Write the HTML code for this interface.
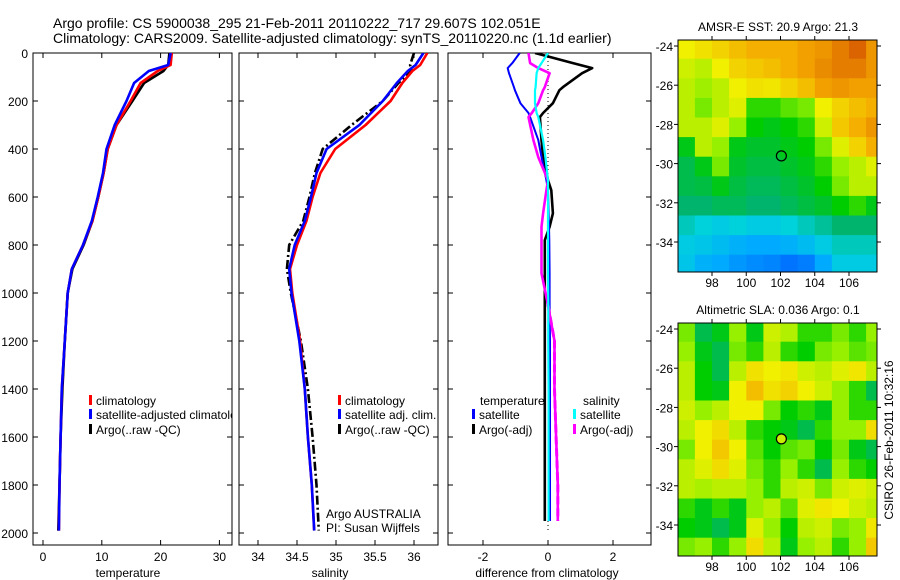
<!DOCTYPE html>
<html><head><meta charset="utf-8"><style>
html,body{margin:0;padding:0;background:#fff;}
svg{display:block;font-family:"Liberation Sans",sans-serif;}
text{fill:#000;}
</style></head><body>
<svg id="fig" width="900" height="580" viewBox="0 0 900 580" xmlns="http://www.w3.org/2000/svg">
<text x="53" y="28" font-size="14">Argo profile: CS 5900038_295 21-Feb-2011 20110222_717 29.607S 102.051E</text>
<text x="53" y="43" font-size="14">Climatology: CARS2009. Satellite-adjusted climatology: synTS_20110220.nc (1.1d earlier)</text>
<g id="g"></g>
</svg>
<script>
// ---- profile data (depth in m) ----
const depths = [0,50,75,125,200,300,400,500,600,700,800,900,1000,1200,1400,1600,1800,1990];
const tempClim = [21.9,21.7,19.5,16.6,14.9,12.5,11.0,10.3,9.4,8.4,6.8,4.9,4.2,3.7,3.2,3.0,2.8,2.7];
const tempSat  = [21.7,21.3,18.0,15.5,14.2,12.2,10.8,10.2,9.3,8.3,6.8,4.9,4.2,3.7,3.2,3.0,2.8,2.7];
const tempArgo = [21.5,21.3,20.5,17.2,15.2,12.5,11.0,10.3,9.4,8.4,6.9,5.0,4.2,3.7,3.3,3.0,2.8,2.6];
const salClim = [36.17,36.08,35.98,35.85,35.7,35.38,34.99,34.8,34.7,34.62,34.5,34.41,34.44,34.54,34.6,34.64,34.69,34.72];
const salSat  = [36.12,36.02,35.92,35.78,35.6,35.3,34.88,34.75,34.68,34.6,34.47,34.4,34.43,34.53,34.6,34.64,34.69,34.72];
const salArgo = [36.0,35.95,35.97,35.8,35.6,35.2,34.83,34.73,34.66,34.58,34.4,34.37,34.42,34.55,34.64,34.7,34.75,34.78];
const diffDepths = [0,42,63,84,142,155,209,250,267,363,434,530,572,668,724,780,918,1050,1200,1400,1600,1800,1950];
const dTempSat  = [-0.87,-1.1,-1.24,-1.2,-1.05,-1.02,-0.85,-0.6,-0.55,-0.3,-0.2,-0.05,0,0.02,0.03,0.04,0.05,0.05,0.06,0.06,0.06,0.06,0.06];
const dTempArgo = [-0.4,0.77,1.36,1.05,0.46,0.35,0.15,-0.15,-0.25,-0.2,-0.15,0.0,0.1,0.15,0.05,-0.1,-0.1,-0.1,-0.1,-0.1,-0.1,-0.1,-0.1];
const dSalSat   = [0,-0.2,-0.3,-0.35,-0.38,-0.4,-0.4,-0.35,-0.3,-0.15,-0.08,0,0,0,0,0,0,0.01,0.01,0.02,0.02,0.02,0.02];
const dSalArgo  = [-0.6,-0.55,-0.3,0.05,-0.1,-0.15,-0.3,-0.5,-0.6,-0.45,-0.3,0,-0.05,-0.15,-0.2,-0.2,-0.2,0.0,0.2,0.2,0.25,0.3,0.3];
// ---- map data (values 0..1 on colour scale), rows from north to south ----
const mapLons = [96,97,98,99,100,101,102,103,104,105,106,107];
const mapLats = [-23.65,-24.65,-25.65,-26.65,-27.65,-28.65,-29.65,-30.65,-31.65,-32.65,-33.65,-34.65];
const sstRows = [
[0.72,0.75,0.78,0.82,0.85,0.85,0.85,0.88,0.9,0.95,1,0.9],
[0.68,0.66,0.72,0.78,0.8,0.82,0.85,0.88,0.92,0.95,0.95,0.9],
[0.66,0.63,0.66,0.72,0.75,0.74,0.78,0.82,0.88,0.9,0.88,0.88],
[0.66,0.6,0.66,0.7,0.55,0.55,0.58,0.6,0.72,0.78,0.82,0.85],
[0.66,0.66,0.7,0.62,0.52,0.5,0.52,0.55,0.68,0.8,0.85,0.9],
[0.5,0.66,0.62,0.5,0.48,0.48,0.5,0.52,0.6,0.7,0.78,0.85],
[0.45,0.5,0.6,0.48,0.46,0.46,0.48,0.5,0.55,0.62,0.66,0.7],
[0.45,0.46,0.5,0.46,0.44,0.44,0.46,0.48,0.52,0.6,0.66,0.66],
[0.42,0.42,0.44,0.44,0.42,0.42,0.44,0.46,0.48,0.52,0.55,0.5],
[0.35,0.32,0.3,0.32,0.3,0.3,0.32,0.35,0.38,0.42,0.42,0.42],
[0.3,0.28,0.25,0.22,0.2,0.2,0.22,0.25,0.3,0.35,0.35,0.35],
[0.28,0.22,0.2,0.15,0.12,0.1,0.05,0.08,0.2,0.3,0.3,0.3]];
const slaRows = [
[0.6,0.45,0.5,0.62,0.5,0.68,0.65,0.55,0.55,0.6,0.55,0.62],
[0.62,0.5,0.45,0.6,0.55,0.66,0.55,0.52,0.6,0.62,0.58,0.6],
[0.66,0.52,0.45,0.66,0.75,0.72,0.74,0.68,0.66,0.7,0.74,0.66],
[0.66,0.52,0.5,0.72,0.82,0.75,0.78,0.72,0.68,0.62,0.55,0.45],
[0.68,0.62,0.66,0.72,0.72,0.6,0.52,0.55,0.5,0.62,0.55,0.55],
[0.66,0.72,0.76,0.66,0.55,0.52,0.5,0.45,0.55,0.62,0.62,0.76],
[0.6,0.72,0.8,0.72,0.58,0.52,0.58,0.6,0.52,0.6,0.5,0.45],
[0.66,0.7,0.76,0.7,0.6,0.55,0.62,0.55,0.45,0.62,0.55,0.52],
[0.66,0.64,0.66,0.66,0.62,0.55,0.66,0.68,0.6,0.68,0.7,0.68],
[0.55,0.5,0.55,0.5,0.62,0.66,0.58,0.7,0.74,0.72,0.68,0.66],
[0.52,0.5,0.45,0.5,0.7,0.62,0.52,0.66,0.68,0.6,0.62,0.74],
[0.6,0.62,0.55,0.62,0.76,0.66,0.5,0.62,0.66,0.55,0.62,0.8]];
const depthTicks = [0,200,400,600,800,1000,1200,1400,1600,1800,2000];
const tempTicks = [0,10,20,30];
const salTicks = [34,34.5,35,35.5,36];
const diffTicks = [-2,0,2];
const lonTicks = [98,100,102,104,106];
const latTicks = [-24,-26,-28,-30,-32,-34];
const floatLon = 102.051, floatLat = -29.607;

const NS='http://www.w3.org/2000/svg';
const G=document.getElementById('g');
function mk(tag,attrs,parent){const e=document.createElementNS(NS,tag);for(const k in attrs)e.setAttribute(k,attrs[k]);(parent||G).appendChild(e);return e;}
function lin(d0,d1,r0,r1){return v=>r0+(v-d0)*(r1-r0)/(d1-d0);}
const yD = lin(0,800,53,245);
const PT=53,PB=545;
const panels=[
 {name:'temperature',x0:33,x1:232,sx:lin(0,10,43,101.8),ticks:tempTicks,label:'temperature',lx:128},
 {name:'salinity',x0:239,x1:438,sx:lin(34,35,258,336),ticks:salTicks,label:'salinity',lx:330},
 {name:'difference',x0:448,x1:651,sx:lin(0,2,548,613),ticks:diffTicks,label:'difference from climatology',lx:547}];
panels.forEach((p,i)=>{
  const g=mk('g',{});
  
  
  const r=mk('rect',{x:p.x0,y:PT,width:p.x1-p.x0,height:PB-PT,fill:'none',stroke:'#000','stroke-width':1},g);
  
  
  depthTicks.forEach(d=>{const y=yD(d);
    mk('line',{x1:p.x0,x2:p.x0+5,y1:y,y2:y,stroke:'#000'},g);
    mk('line',{x1:p.x1,x2:p.x1-5,y1:y,y2:y,stroke:'#000'},g);
    if(i==0){const t=mk('text',{x:28,y:y+5,'font-size':12,'text-anchor':'end'},g);t.textContent=d;
      
      }
  });
  p.ticks.forEach(v=>{const x=p.sx(v);
    mk('line',{x1:x,x2:x,y1:PT,y2:PT+5,stroke:'#000'},g);
    mk('line',{x1:x,x2:x,y1:PB,y2:PB-5,stroke:'#000'},g);
    const t=mk('text',{x:x,y:561,'font-size':12,'text-anchor':'middle'},g);t.textContent=v;
    
    
  });
  const xl=mk('text',{x:p.lx,y:577,'font-size':12,'text-anchor':'middle'},g);xl.textContent=p.label;
  
  
  p.g=g;
});
function clip(id,p){const c=mk('clipPath',{id:id});mk('rect',{x:p.x0,y:PT,width:p.x1-p.x0,height:PB-PT},c);}
panels.forEach((p,i)=>clip('c'+i,p));
function line(pi,ds,vals,color,name,dash,w){
  const p=panels[pi];
  const pts=ds.map((d,k)=>p.sx(vals[k]).toFixed(1)+','+yD(d).toFixed(1)).join(' ');
  const e=mk('polyline',{points:pts,fill:'none',stroke:color,'stroke-width':w||2.6,'clip-path':'url(#c'+pi+')','stroke-linejoin':'round'},p.g);
  if(dash)e.setAttribute('stroke-dasharray',dash);
  
  
  return e;
}
line(0,depths,tempArgo,'#000','temp-argo-line');
line(0,depths,tempClim,'#f00','temp-climatology-line');
line(0,depths,tempSat,'#00f','temp-satellite-line');
line(1,depths,salArgo,'#000','sal-argo-line','9,3,2,3');
line(1,depths,salClim,'#f00','sal-climatology-line');
line(1,depths,salSat,'#00f','sal-satellite-line');
// zero reference
const z=mk('line',{x1:panels[2].sx(0),x2:panels[2].sx(0),y1:PT,y2:yD(1990),stroke:'#000','stroke-dasharray':'1,3'},panels[2].g);


line(2,diffDepths,dTempArgo,'#000','diff-temp-argo-line');
line(2,diffDepths,dTempSat,'#00f','diff-temp-satellite-line',null,2);
line(2,diffDepths,dSalArgo,'#f0f','diff-sal-argo-line');
line(2,diffDepths.slice(17),dSalArgo.slice(17),'#f0f','diff-sal-argo-dashed','8,4',3);
line(2,diffDepths,dSalSat,'#0ff','diff-sal-satellite-line',null,2.2);

// legends
function legend(x,y,color,label,name,clipW){
  const g=mk('g',{});
  
  
  mk('rect',{x:x,y:y-10,width:3,height:10,fill:color},g);
  const t=mk('text',{x:x+7,y:y,'font-size':12},g);t.textContent=label;
  if(clipW)t.setAttribute('clip-path','url(#c0)');
}
legend(89,405,'#f00','climatology','legend-climatology');
legend(89,419,'#00f','satellite-adjusted climatology','legend-satellite-adjusted',true);
legend(89,434,'#000','Argo(..raw -QC)','legend-argo-raw');
legend(338,405,'#f00','climatology','legend-sal-climatology');
legend(338,419,'#00f','satellite adj. clim.','legend-sal-satellite');
legend(338,434,'#000','Argo(..raw -QC)','legend-sal-argo');
legend(472,419,'#00f','satellite','legend-diff-temp-satellite');
legend(472,434,'#000','Argo(-adj)','legend-diff-temp-argo');
legend(573,419,'#0ff','satellite','legend-diff-sal-satellite');
legend(573,434,'#f0f','Argo(-adj)','legend-diff-sal-argo');
[['temperature',480,405,'legend-header-temperature'],['salinity',583,405,'legend-header-salinity'],
 ['Argo AUSTRALIA',326,518,'credit-argo-australia'],['PI: Susan Wijffels',326,532,'credit-pi']].forEach(a=>{
  const t=mk('text',{x:a[1],y:a[2],'font-size':12});t.textContent=a[0];
  
  
});

// colour map
const stops=[[0,[0,96,255]],[0.2,[0,170,255]],[0.32,[0,210,220]],[0.42,[0,180,110]],[0.52,[0,205,0]],[0.62,[150,240,0]],[0.72,[240,240,0]],[0.86,[245,170,0]],[1,[220,100,0]]];
function cmap(v){for(let i=1;i<stops.length;i++){if(v<=stops[i][0]){const a=stops[i-1],b=stops[i],t=(v-a[0])/(b[0]-a[0]);
  return 'rgb('+a[1].map((c,k)=>Math.round(c+(b[1][k]-c)*t)).join(',')+')';}}return 'rgb(220,100,0)';}
function map(rows,top,bot,title,name,dotFill){
  const X0=678,X1=877;
  const sx=lin(98,106,712,849), sy=lin(-24,-34,top+6,top+6+196);
  const g=mk('g',{});
  
  
  const cid='cm'+top;const c=mk('clipPath',{id:cid});mk('rect',{x:X0,y:top,width:X1-X0,height:bot-top},c);
  const cg=mk('g',{'clip-path':'url(#'+cid+')'},g);
  rows.forEach((row,r)=>row.forEach((v,k)=>{
    const x=sx(mapLons[k]),y=sy(mapLats[r]);
    const e=mk('rect',{x:x.toFixed(1),y:y.toFixed(1),width:(sx(mapLons[k]+1)-x+0.5).toFixed(1),height:(sy(mapLats[r]-1)-y+0.5).toFixed(1),fill:cmap(v)},cg);
    
    
  }));
  mk('rect',{x:X0,y:top,width:X1-X0,height:bot-top,fill:'none',stroke:'#000'},g);
  lonTicks.forEach(l=>{const x=sx(l);mk('line',{x1:x,x2:x,y1:bot,y2:bot+4,stroke:'#000'},g);mk('line',{x1:x,x2:x,y1:top,y2:top-4,stroke:'#000'},g);
    const t=mk('text',{x:x,y:bot+15,'font-size':12,'text-anchor':'middle'},g);t.textContent=l;
    
    });
  latTicks.forEach(l=>{const y=sy(l);mk('line',{x1:X0,x2:X0-4,y1:y,y2:y,stroke:'#000'},g);mk('line',{x1:X1,x2:X1+4,y1:y,y2:y,stroke:'#000'},g);
    const t=mk('text',{x:673,y:y+5,'font-size':12,'text-anchor':'end'},g);t.textContent=l;
    
    });
  const tt=mk('text',{x:778,y:top-9,'font-size':12,'text-anchor':'middle'},g);tt.textContent=title;
  
  
  const m=mk('circle',{cx:sx(floatLon),cy:sy(floatLat),r:5,fill:dotFill,stroke:'#000','stroke-width':1.2},g);
  
  
}
map(sstRows,40,272,'AMSR-E SST: 20.9 Argo: 21.3','sst-map','none');
map(slaRows,323,556,'Altimetric SLA: 0.036 Argo: 0.1','sla-map','#c8f000');
const cs=mk('text',{x:0,y:0,'font-size':12,'text-anchor':'middle',transform:'translate(893,440) rotate(-90)'});
cs.textContent='CSIRO 26-Feb-2011 10:32:16';


</script>
</body></html>
